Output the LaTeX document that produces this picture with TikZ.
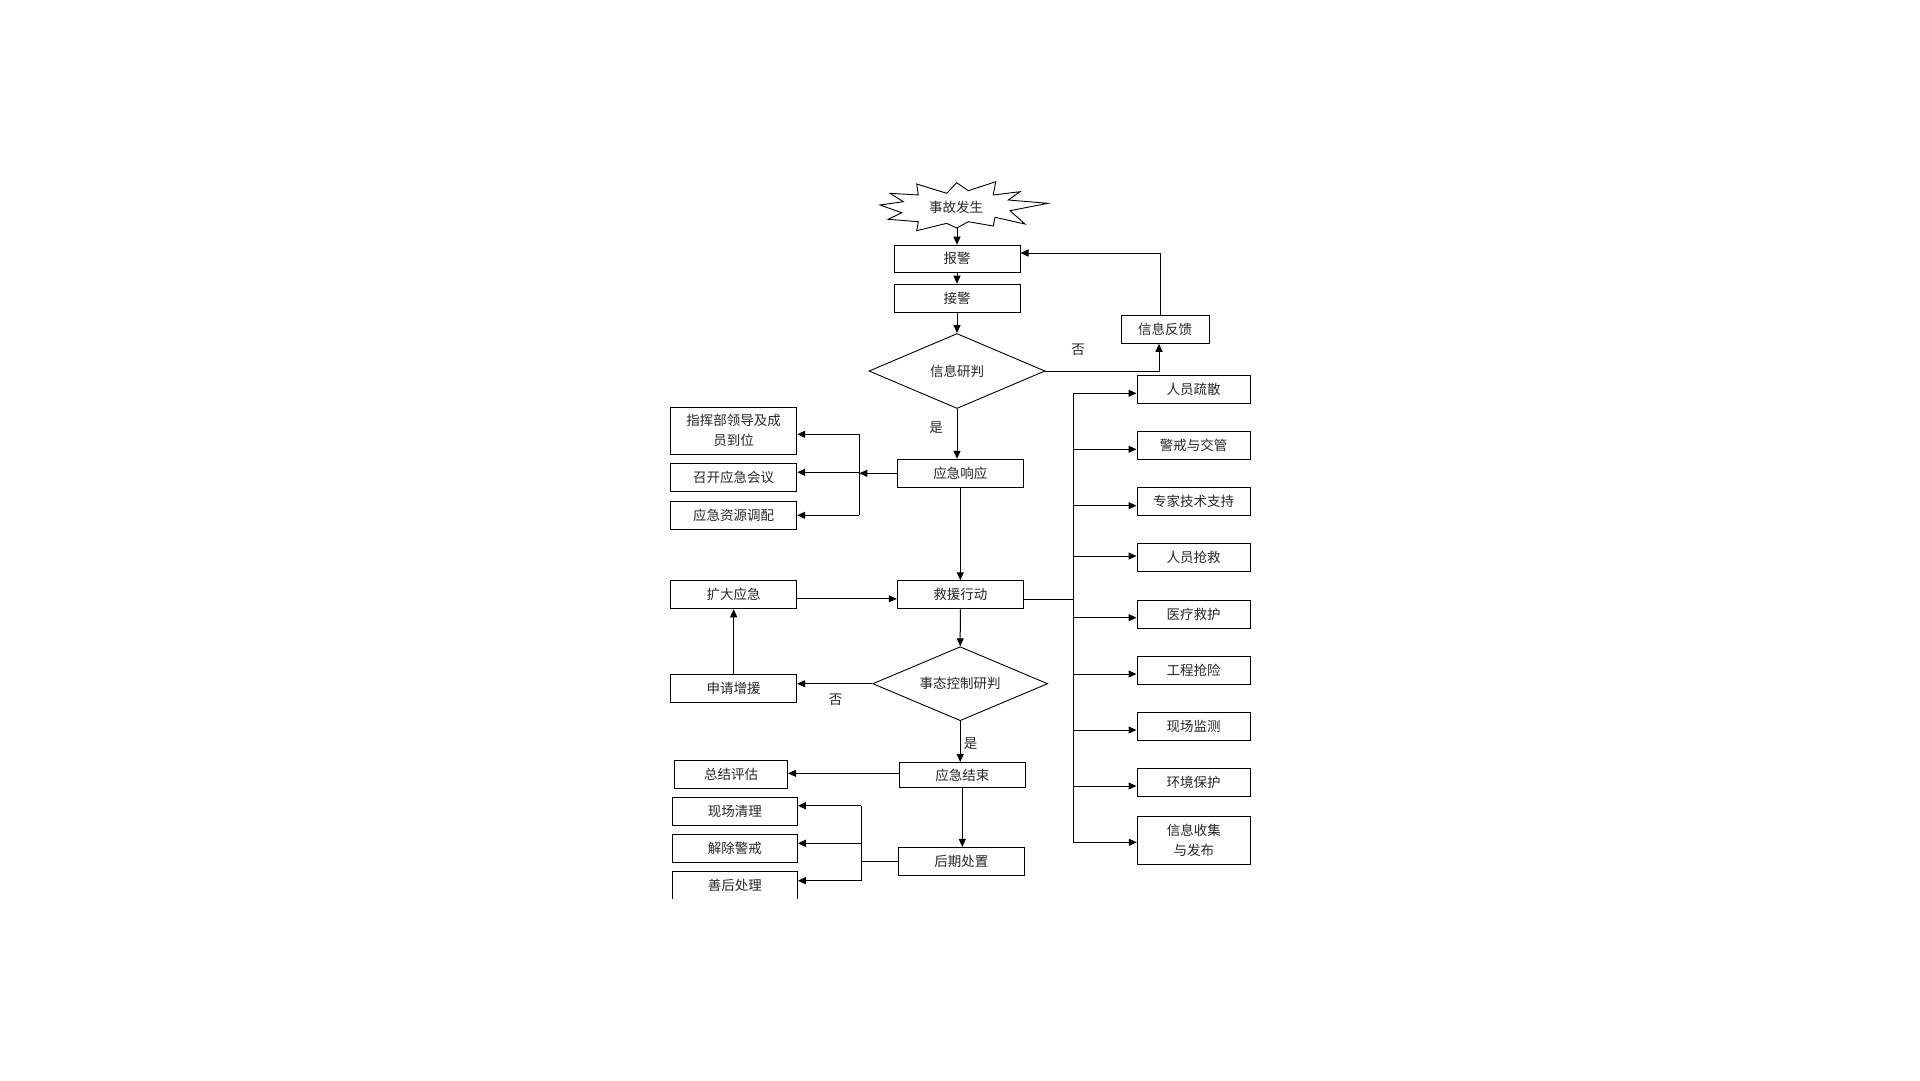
\documentclass[tikz,border=0pt]{standalone}
\usepackage{fontspec}
\newfontfamily\cjk{Noto Sans CJK SC}
\usetikzlibrary{arrows.meta,shapes.geometric}
\begin{document}
\begin{tikzpicture}[x=1pt,y=-1pt,
  every node/.style={font=\cjk\fontsize{13.5}{20}\selectfont, text=black!85, inner sep=0pt},
  box/.style={draw=black, line width=1pt, rectangle, minimum width=126pt, minimum height=28pt, align=center},
  rbox/.style={box, minimum width=113pt},
  dia/.style={draw=black, line width=0.9pt, diamond, aspect=2.35, minimum width=176pt, minimum height=75pt},
  ln/.style={line width=1pt},
  arr/.style={line width=1pt, -{Triangle[length=8pt,width=7pt]}}
]
\useasboundingbox (0,0) rectangle (1920,1080);
\begin{scope}
\clip (0,0) rectangle (1920,898.5);
% star
\draw[line width=0.9pt] (880,205) -- (903.3,201.7) -- (890,193.3) -- (918.3,195) -- (916.7,184)
  -- (946.7,193.3) -- (956.7,182.7) -- (968.3,190.7) -- (995.7,181.7) -- (993.3,195)
  -- (1020,191.7) -- (1008.3,200) -- (1048,203.3) -- (1010,210.7) -- (1025,224)
  -- (995,217.3) -- (993.3,226) -- (968.3,221.7) -- (956.7,228) -- (946.7,223.3)
  -- (916.7,230.7) -- (918.3,221.7) -- (888.3,219.3) -- (901.7,212.7) -- cycle;
\node (star) at (956,207) {事故发生};
\coordinate (starb) at (957,228);

% main column
\node[box, minimum height=27pt] (baojing) at (957,258.7) {报警};
\node[box] (jiejing) at (957,298.2) {接警};
\node[dia] (xxyp) at (957,371) {信息研判};
\node[box, minimum width=88pt] (xxfk) at (1165,329.3) {信息反馈};
\node[box] (yjxy) at (960.3,473.3) {应急响应};
\node[box] (jyxd) at (960.3,594.8) {救援行动};
\node[dia, minimum width=175pt, minimum height=74pt] (stkz) at (960.2,683.7) {事态控制研判};
\node[box, minimum height=25pt] (yjjs) at (962.3,775) {应急结束};
\node[box] (hqcz) at (961.3,861.3) {后期处置};

% left column
\node[box, minimum height=47pt] (zhb) at (733.7,430.8) {指挥部领导及成\\员到位};
\node[box] (zkhy) at (733.7,477.3) {召开应急会议};
\node[box] (yjzy) at (733.7,515.3) {应急资源调配};
\node[box] (kdyj) at (733.7,594.8) {扩大应急};
\node[box] (sqzy) at (733.7,688.3) {申请增援};
\node[box, minimum width=113pt] (zjpg) at (731,774.3) {总结评估};
\node[box, minimum width=125pt] (xcql) at (734.8,811.3) {现场清理};
\node[box, minimum width=125pt] (jcjj) at (734.8,848.3) {解除警戒};
\node[box, minimum width=125pt] (shcl) at (734.8,885.3) {善后处理};

% right column
\node[rbox] (r1) at (1193.5,389.3) {人员疏散};
\node[rbox] (r2) at (1193.5,445.3) {警戒与交管};
\node[rbox] (r3) at (1193.5,501.3) {专家技术支持};
\node[rbox] (r4) at (1193.5,557.3) {人员抢救};
\node[rbox] (r5) at (1193.5,614) {医疗救护};
\node[rbox] (r6) at (1193.5,670.3) {工程抢险};
\node[rbox] (r7) at (1193.5,726.3) {现场监测};
\node[rbox] (r8) at (1193.5,782.3) {环境保护};
\node[rbox, minimum height=47.6pt] (r9) at (1193.8,840.5) {信息收集\\与发布};

% labels
\node (no1) at (1078,350) {否};
\node (yes1) at (936,428) {是};
\node (no2) at (835.7,699.3) {否};
\node (yes2) at (970.7,743.3) {是};

% bus coordinates
\coordinate (rt) at (1073.3,393.3);
\coordinate (lb) at (859.3,472.3);
\coordinate (lb2) at (861.3,861.3);

% main flow
\draw[arr] (starb) -- (baojing.north);
\draw[arr] (baojing.south) -- (jiejing.north);
\draw[arr] (jiejing.south) -- (xxyp.north);
\draw[arr] (xxyp.south) -- (xxyp.south |- yjxy.north);
\draw[arr] (yjxy.south) -- (jyxd.north);
\draw[arr] (jyxd.south) -- (stkz.north);
\draw[arr] (stkz.south) -- (stkz.south |- yjjs.north);
\draw[arr] (yjjs.south) -- (yjjs.south |- hqcz.north);

% feedback loop
\draw[arr] (xxyp.east) -| ([xshift=-6pt]xxfk.south);
\draw[arr] ([xshift=-5pt]xxfk.north) |- ([yshift=5.7pt]baojing.east);

% emergency response fan-out
\draw[arr] (yjxy.west) -- (yjxy.west -| lb);
\draw[ln] ([yshift=-3.5pt]zhb.east -| lb) -- (yjzy.east -| lb);
\draw[arr] ([yshift=-3.5pt]zhb.east -| lb) -- ([yshift=-3.5pt]zhb.east);
\draw[arr] ([yshift=5pt]zkhy.east -| lb) -- ([yshift=5pt]zkhy.east);
\draw[arr] (yjzy.east -| lb) -- (yjzy.east);

% expansion loop
\draw[arr] ([yshift=-4pt]kdyj.east) -- ([yshift=-4pt]kdyj.east -| jyxd.west);
\draw[arr] (stkz.west) -- (stkz.west -| sqzy.east);
\draw[arr] (sqzy.north) -- (kdyj.south);

% rescue fan-out
\draw[ln] ([yshift=-4.5pt]jyxd.east) -- ([yshift=-4.5pt]jyxd.east -| rt);
\draw[ln] ([yshift=-4pt]r1.west -| rt) -- ([yshift=-1.8pt]r9.west -| rt);
\foreach \n/\s in {r1/-4,r2/-4,r3/-4.4,r4/1.3,r5/-3.7,r6/-3.7,r7/-3.7,r8/-3.7,r9/-1.8}
  \draw[arr] ([yshift=\s pt]\n.west -| rt) -- ([yshift=\s pt]\n.west);

% end phase
\draw[arr] ([yshift=1.7pt]yjjs.west) -- ([yshift=1.7pt]yjjs.west -| zjpg.east);
\draw[ln] (hqcz.west) -- (hqcz.west -| lb2);
\draw[ln] ([yshift=5.6pt]xcql.east -| lb2) -- ([yshift=4.6pt]shcl.east -| lb2);
\draw[arr] ([yshift=5.6pt]xcql.east -| lb2) -- ([yshift=5.6pt]xcql.east);
\draw[arr] ([yshift=5pt]jcjj.east -| lb2) -- ([yshift=5pt]jcjj.east);
\draw[arr] ([yshift=4.6pt]shcl.east -| lb2) -- ([yshift=4.6pt]shcl.east);
\end{scope}
\end{tikzpicture}
\end{document}
